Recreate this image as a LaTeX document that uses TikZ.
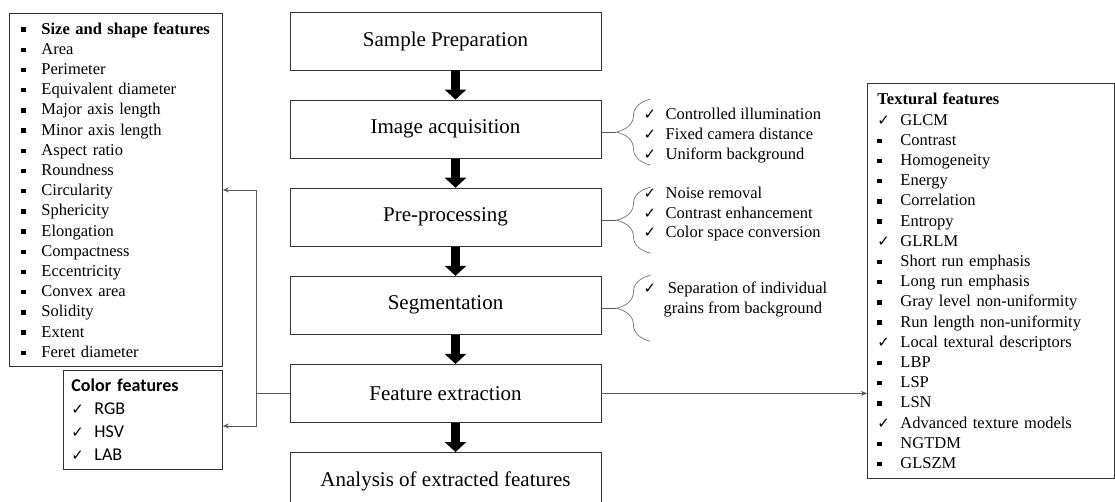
\documentclass[tikz,border=0pt]{standalone}
\usepackage{fontspec}
\setmainfont{Liberation Serif}
\newfontfamily\calibri{Carlito}
\newfontfamily\symfont{DejaVu Sans}
\usetikzlibrary{positioning,arrows.meta,decorations.pathreplacing}

\newcommand\ck[1][22pt]{\makebox[#1][l]{\symfont\fontsize{15}{15}\selectfont ✓}}
\newcommand\sq[1][20pt]{\makebox[#1][l]{\rule[0.3ex]{4.5pt}{4.5pt}}}

\begin{document}
\begin{tikzpicture}[x=1pt, y=-1pt, node distance=29.2pt,
  stepbox/.style = {draw=black!80, line width=0.9pt,
    minimum width=311pt, minimum height=58pt,
    font=\fontsize{21}{25}\selectfont},
  listbox/.style = {draw=black!80, line width=0.9pt, anchor=north west,
    align=left, inner ysep=0pt, font=\fontsize{16.5}{20.2}\selectfont},
  bracelist/.style = {inner sep=0pt, anchor=west, align=left,
    font=\fontsize{16.5}{19.8}\selectfont},
  bigarrow/.style = {line width=9pt, -{Triangle[width=21pt,length=10pt]}},
  brace/.style = {draw=black!55, line width=0.7pt, decorate,
    decoration={brace, amplitude=34pt}},
  link/.style = {draw=black!65, line width=0.8pt},
  tip/.style = {-{Stealth[length=6pt,width=5pt]}}]
  \useasboundingbox (0,0) rectangle (1115,502);

  % main flow
  \node[stepbox] (sample) at (445.5,41) {Sample Preparation};
  \node[stepbox, below=of sample] (acq) {Image acquisition};
  \node[stepbox, below=of acq] (pre) {Pre-processing};
  \node[stepbox, below=of pre] (seg) {Segmentation};
  \node[stepbox, below=of seg] (fe) {Feature extraction};
  \node[stepbox, below=of fe] (ana) {Analysis of extracted features};

  \foreach \a/\b in {sample/acq, acq/pre, pre/seg, seg/fe, fe/ana}
    \draw[bigarrow] ([xshift=10pt]\a.south) -- ([xshift=10pt]\b.north);

  % conditions of each step
  \node[bracelist] (acqlist) at ([xshift=42pt,yshift=-6.5pt]acq.east)
    {\ck Controlled illumination\\ \ck Fixed camera distance\\ \ck Uniform background};
  \node[bracelist] (prelist) at ([xshift=42pt,yshift=3pt]pre.east)
    {\ck Noise removal\\ \ck Contrast enhancement\\ \ck Color space conversion};
  \node[bracelist] (seglist) at ([xshift=42pt,yshift=6pt]seg.east)
    {\ck[20pt] Separation of individual\\ \makebox[20pt]{}grains from background};

  \foreach \s in {acq, pre, seg} {
    \draw[brace] ([xshift=49pt,yshift=-36pt]\s.east) -- ([xshift=49pt,yshift=30pt]\s.east);
    \draw[link] ([yshift=-3pt]\s.east) -- ++(15,0);
  }

  % feature groups
  \node[listbox, minimum width=213pt, minimum height=353pt,
    text width=189pt, inner xsep=12pt] (shape) at (9,13)
    {\sq\textbf{Size and shape features}\\ \sq Area\\ \sq Perimeter\\
     \sq Equivalent diameter\\ \sq Major axis length\\ \sq Minor axis length\\
     \sq Aspect ratio\\ \sq Roundness\\ \sq Circularity\\ \sq Sphericity\\
     \sq Elongation\\ \sq Compactness\\ \sq Eccentricity\\ \sq Convex area\\
     \sq Solidity\\ \sq Extent\\ \sq Feret diameter};

  \node[listbox, minimum width=159pt, minimum height=99pt,
    text width=143pt, inner xsep=8pt,
    font=\calibri\fontsize{18}{23}\selectfont] (color) at (63,370)
    {\textbf{Color features}\\ \ck[23pt]RGB\\ \ck[23pt]HSV\\ \ck[23pt]LAB};

  \node[listbox, minimum width=247pt, minimum height=395pt,
    text width=227pt, inner xsep=10pt] (texture) at (867,83)
    {\textbf{Textural features}\\ \ck[23pt]GLCM\\ \sq[23pt]Contrast\\
     \sq[23pt]Homogeneity\\ \sq[23pt]Energy\\ \sq[23pt]Correlation\\
     \sq[23pt]Entropy\\ \ck[23pt]GLRLM\\ \sq[23pt]Short run emphasis\\
     \sq[23pt]Long run emphasis\\ \sq[23pt]Gray level non-uniformity\\
     \sq[23pt]Run length non-uniformity\\ \ck[23pt]Local textural descriptors\\
     \sq[23pt]LBP\\ \sq[23pt]LSP\\ \sq[23pt]LSN\\
     \ck[23pt]Advanced texture models\\ \sq[23pt]NGTDM\\ \sq[23pt]GLSZM};

  % links from feature extraction
  \coordinate (split) at ([xshift=-33pt]fe.west);
  \draw[link] (fe.west) -- (split);
  \draw[link, tip] (split) |- (shape.east);
  \draw[link, tip] (split) |- ([yshift=-6pt]color.east);
  \draw[link, tip] (fe.east) -- (fe.east -| texture.west);
\end{tikzpicture}
\end{document}
